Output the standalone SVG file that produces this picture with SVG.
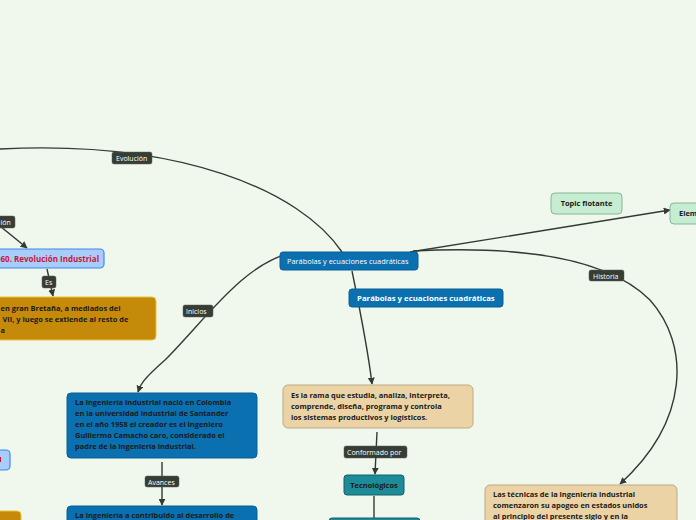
<svg xmlns="http://www.w3.org/2000/svg" width="696" height="520" viewBox="0 0 696 520">
<defs>
<marker id="ah" viewBox="0 0 10 10" refX="9" refY="5" markerWidth="7" markerHeight="7" orient="auto-start-reverse" markerUnits="userSpaceOnUse">
<path d="M0,0 L10,5 L0,10 z" fill="#333a33"/>
</marker>
<style>
text{font-family:"Open Sans","Noto Sans","Liberation Sans",sans-serif}
.c{fill:none;stroke:#333a33;stroke-width:1.4}
.lb rect{fill:#353d35;stroke:#5a625a;stroke-width:0.5}
.lb text{fill:#ffffff;font-size:7px}
.blue rect{fill:#0b70b0;stroke:#0a5f96;stroke-width:1}
.tan rect{fill:#ecd3a6;stroke:#bca984;stroke-width:1}
.grn rect{fill:#c6ecd1;stroke:#86b896;stroke-width:1}
.teal rect{fill:#1d8b98;stroke:#14606a;stroke-width:1}
.bt{fill:#1a1a1a;font-size:7.45px;font-weight:bold}
</style>
</defs>
<rect width="696" height="520" fill="#f0f8ee"/>
<g id="connectors">
<path class="c" d="M342,252 C300,190 180,140 0,149"/>
<path class="c" d="M292,253 C245,262 205,320 165,360 C140,382 140,386 138,392" marker-end="url(#ah)"/>
<path class="c" d="M352,271 C360,310 368,350 372,384" marker-end="url(#ah)"/>
<path class="c" d="M410,252 L670,210" marker-end="url(#ah)"/>
<path class="c" d="M413,251 C530,245 610,260 650,300 C690,345 690,420 620,484" marker-end="url(#ah)"/>
<path class="c" d="M0,226 L27,248" marker-end="url(#ah)"/>
<path class="c" d="M47,269 L53,296" marker-end="url(#ah)"/>
<path class="c" d="M162,462 L162,505" marker-end="url(#ah)"/>
<path class="c" d="M377,432 L375,474" marker-end="url(#ah)"/>
<path class="c" d="M374,496 L374,518"/>
<g class="lb"><rect x="112" y="152" width="40" height="12" rx="2"/><text x="116" y="161">Evolución</text></g>
<g class="lb"><rect x="-10" y="216" width="25" height="12" rx="2"/><text x="0.5" y="225">ión</text></g>
<g class="lb"><rect x="42" y="276" width="14" height="12" rx="2"/><text x="45" y="285">Es</text></g>
<g class="lb"><rect x="183" y="305" width="30" height="12" rx="2"/><text x="186" y="314">Inicios</text></g>
<g class="lb"><rect x="145" y="476" width="34" height="11" rx="2"/><text x="148" y="484.5">Avances</text></g>
<g class="lb"><rect x="344" y="446" width="63" height="12" rx="2"/><text x="347" y="455">Conformado por</text></g>
<g class="lb"><rect x="589" y="270" width="35" height="11" rx="2"/><text x="593" y="278.5">Historia</text></g>
</g>
<g id="n-central" class="blue"><rect x="280" y="252" width="138" height="18" rx="3"/><text x="287" y="264" fill="#ffffff" font-size="7.4px">Parábolas y ecuaciones cuadráticas</text></g>
<g id="n-parabolas2" class="blue"><rect x="349" y="289" width="154" height="18" rx="3"/><text x="357" y="301" fill="#ffffff" font-size="7.8px" font-weight="bold">Parábolas y ecuaciones cuadráticas</text></g>
<g id="n-revolucion"><rect x="-10" y="249" width="114" height="19" rx="4" fill="#a9cdfb" stroke="#3f8ae6" stroke-width="1.2"/><text x="0.5" y="261.5" fill="#c8173a" font-size="8px" font-weight="bold">60. Revolución Industrial</text></g>
<g id="n-bretana"><rect x="-10" y="297" width="166" height="43" rx="4" fill="#c68a0a" stroke="#e6c33a" stroke-width="1"/>
<text class="bt" y="311" font-size="7.9px"><tspan x="0.5">en gran Bretaña, a mediados del</tspan><tspan x="2.5" dy="11">VII, y luego se extiende al resto de</tspan><tspan x="0.5" dy="11">a</tspan></text></g>
<g id="n-colombia" class="blue"><rect x="67" y="393" width="190" height="65" rx="4"/>
<text class="bt" y="405"><tspan x="75">La ingeniería industrial nació en Colombia</tspan><tspan x="75" dy="11">en la universidad industrial de Santander</tspan><tspan x="75" dy="11">en el año 1958 el creador es el ingeniero</tspan><tspan x="75" dy="11">Guillermo Camacho caro, considerado el</tspan><tspan x="75" dy="11">padre de la ingeniería industrial.</tspan></text></g>
<g id="n-contribuido" class="blue"><rect x="67" y="506" width="190" height="30" rx="4"/><text class="bt" x="75" y="518">La ingeniería a contribuido al desarrollo de</text></g>
<g id="n-left-blue"><rect x="-20" y="450" width="30" height="20" rx="4" fill="#a9cdfb" stroke="#3f8ae6" stroke-width="1.2"/><rect x="-2" y="457" width="3" height="5" fill="#c8173a"/></g>
<g id="n-left-orange"><rect x="-20" y="511" width="41" height="20" rx="4" fill="#c68a0a" stroke="#e6c33a" stroke-width="1"/></g>
<g id="n-rama" class="tan"><rect x="283" y="385" width="190" height="43" rx="5"/>
<text class="bt" y="398"><tspan x="291">Es la rama que estudia, analiza, interpreta,</tspan><tspan x="291" dy="11">comprende, diseña, programa y controla</tspan><tspan x="291" dy="11">los sistemas productivos y logísticos.</tspan></text></g>
<g id="n-tecnologicos" class="teal"><rect x="344" y="475" width="60" height="20" rx="3"/><text class="bt" x="374" y="487.5" text-anchor="middle" font-size="6.8px">Tecnológicos</text></g>
<g id="n-teal2" class="teal"><rect x="329" y="518" width="91" height="20" rx="3"/></g>
<g id="n-topic" class="grn"><rect x="551" y="193" width="71" height="21" rx="4"/><text class="bt" x="586.5" y="206" text-anchor="middle">Topic flotante</text></g>
<g id="n-elem" class="grn"><rect x="670" y="203" width="40" height="21" rx="4"/><text class="bt" x="679" y="216">Elem</text></g>
<g id="n-historia" class="tan"><rect x="485" y="485" width="192" height="50" rx="5"/>
<text class="bt" y="497"><tspan x="493">Las técnicas de la ingeniería industrial</tspan><tspan x="493" dy="11">comenzaron su apogeo en estados unidos</tspan><tspan x="493" dy="11">al principio del presente siglo y en la</tspan></text></g>
</svg>
